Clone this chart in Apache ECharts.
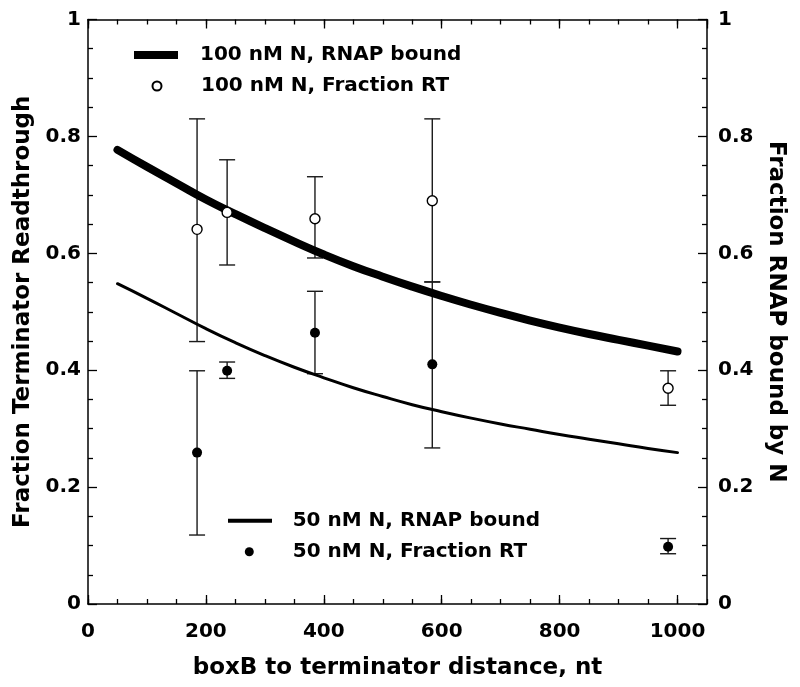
<!DOCTYPE html>
<html>
<head>
<meta charset="utf-8">
<script src="https://cdn.jsdelivr.net/npm/echarts@6/dist/echarts.min.js"></script>
<style>html,body{margin:0;padding:0;background:#fff;}#c{width:800px;height:687px;}</style>
</head>
<body>
<div id="c"></div>
<script>
// ---- data ----
const curveX = [50, 100, 150, 200, 250, 300, 350, 400, 450, 500, 550, 600, 650, 700, 750, 800, 850, 900, 950, 1000];
const bound100 = [0.777, 0.748, 0.720, 0.692, 0.667, 0.643, 0.620, 0.598, 0.578, 0.560, 0.543, 0.527, 0.512, 0.498, 0.485, 0.473, 0.462, 0.452, 0.442, 0.432];
const bound50  = [0.548, 0.523, 0.497, 0.471, 0.447, 0.425, 0.405, 0.387, 0.370, 0.355, 0.341, 0.329, 0.318, 0.308, 0.299, 0.290, 0.282, 0.274, 0.266, 0.259];

const ptX = [185, 236, 385, 584, 984];
const rt100 = [0.641, 0.670, 0.659, 0.690, 0.369];
const rt100Lo = [0.449, 0.580, 0.592, 0.551, 0.340];
const rt100Hi = [0.830, 0.760, 0.731, 0.830, 0.399];
const rt50 = [0.259, 0.399, 0.464, 0.410, 0.098];
const rt50Lo = [0.118, 0.386, 0.394, 0.267, 0.086];
const rt50Hi = [0.399, 0.414, 0.535, 0.551, 0.112];

const xTicks = [0, 200, 400, 600, 800, 1000];
const yTicks = [0, 0.2, 0.4, 0.6, 0.8, 1];

const names = {
  b100: '100 nM N, RNAP bound',
  r100: '100 nM N, Fraction RT',
  b50: '50 nM N, RNAP bound',
  r50: '50 nM N, Fraction RT'
};

// ---- build ----
const FONT = '"DejaVu Sans", "Liberation Sans", Arial, sans-serif';
const pair = (xs, ys) => xs.map((x, i) => [x, ys[i]]);
const err = (xs, lo, hi) => xs.map((x, i) => [x, lo[i], hi[i]]);

function errorRender(params, api) {
  const x = api.value(0), lo = api.value(1), hi = api.value(2);
  const a = api.coord([x, lo]), b = api.coord([x, hi]);
  const w = 8;
  const st = { stroke: '#1a1a1a', lineWidth: 1.4 };
  return {
    type: 'group',
    children: [
      { type: 'line', shape: { x1: a[0], y1: a[1], x2: b[0], y2: b[1] }, style: st },
      { type: 'line', shape: { x1: a[0] - w, y1: a[1], x2: a[0] + w, y2: a[1] }, style: st },
      { type: 'line', shape: { x1: b[0] - w, y1: b[1], x2: b[0] + w, y2: b[1] }, style: st }
    ]
  };
}

const labelStyle = { fontFamily: FONT, fontWeight: 'bold', fontSize: 20, color: '#000' };
const nameStyle = { fontFamily: FONT, fontWeight: 'bold', fontSize: 23, color: '#000' };
const lineSt = { color: '#000', width: 1.5 };

function xAxisDef(pos, major) {
  return {
    type: 'value', position: pos, min: 0, max: 1050,
    interval: major ? 200 : 50,
    axisLine: { show: major, onZero: false, lineStyle: lineSt },
    axisTick: { show: true, inside: true, length: major ? 9 : 5, lineStyle: { color: '#000', width: 1.3 } },
    axisLabel: (pos === 'bottom' && major) ? Object.assign({
      show: true, margin: 18, showMaxLabel: false,
      formatter: v => (xTicks.indexOf(v) >= 0 ? String(v) : '')
    }, labelStyle) : { show: false },
    splitLine: { show: false },
    name: (pos === 'bottom' && major) ? 'boxB to terminator distance, nt' : '',
    nameLocation: 'middle', nameGap: 53, nameTextStyle: nameStyle
  };
}

function yAxisDef(pos, name, margin, gap, rot) {
  return {
    type: 'value', position: pos, min: 0, max: 1, interval: 0.2,
    axisLine: { show: true, onZero: false, lineStyle: lineSt },
    axisTick: { show: true, inside: true, length: 9, lineStyle: { color: '#000', width: 1.3 } },
    minorTick: { show: true, splitNumber: 4, length: 5, lineStyle: { color: '#000', width: 1.3 } },
    axisLabel: Object.assign({
      show: true, margin: margin,
      formatter: v => { const r = Math.round(v * 10) / 10; return yTicks.indexOf(r) >= 0 ? String(r) : ''; }
    }, labelStyle),
    splitLine: { show: false },
    name: name, nameLocation: 'middle', nameGap: gap, nameRotate: rot, nameTextStyle: nameStyle
  };
}

function legendDef(name, icon, left, top, w, h, pad) {
  return {
    data: [{ name: name, icon: icon }],
    left: left, top: top, padding: 0, itemWidth: w, itemHeight: h,
    selectedMode: false, orient: 'vertical',
    textStyle: { fontFamily: FONT, fontWeight: 'bold', fontSize: 20, color: '#000', lineHeight: 22, padding: [0, 0, 0, pad] }
  };
}

const option = {
  backgroundColor: '#fff',
  animation: false,
  grid: { left: 88, right: 93, top: 19.5, bottom: 83, containLabel: false },
  xAxis: [xAxisDef('bottom', true), xAxisDef('bottom', false), xAxisDef('top', true), xAxisDef('top', false)],
  yAxis: [
    yAxisDef('left', 'Fraction Terminator Readthrough', 7, 44, 90),
    yAxisDef('right', 'Fraction RNAP bound by N', 11, 51, -90)
  ],
  legend: [
    legendDef(names.b100, 'rect', 134, 44, 44, 8, 17),
    legendDef(names.r100, 'circle', 151.5, 75, 9, 9, 34.5),
    legendDef(names.b50, 'rect', 228, 509.7, 44, 4, 15.7),
    legendDef(names.r50, 'circle', 244.8, 540.7, 9, 9, 34)
  ],
  series: [
    { type: 'custom', name: 'err100', renderItem: errorRender, data: err(ptX, rt100Lo, rt100Hi), z: 2, silent: true },
    { type: 'custom', name: 'err50', renderItem: errorRender, data: err(ptX, rt50Lo, rt50Hi), z: 2, silent: true },
    { type: 'line', name: names.b100, data: pair(curveX, bound100), smooth: true, showSymbol: false, symbol: 'none',
      lineStyle: { color: '#000', width: 8, cap: 'round' }, itemStyle: { color: '#000' }, z: 3 },
    { type: 'line', name: names.b50, data: pair(curveX, bound50), smooth: true, showSymbol: false, symbol: 'none',
      lineStyle: { color: '#000', width: 3, cap: 'round' }, itemStyle: { color: '#000' }, z: 3 },
    { type: 'scatter', name: names.r100, data: pair(ptX, rt100), symbol: 'circle', symbolSize: 10,
      itemStyle: { color: '#fff', borderColor: '#000', borderWidth: 1.4, opacity: 1 }, z: 5 },
    { type: 'scatter', name: names.r50, data: pair(ptX, rt50), symbol: 'circle', symbolSize: 10,
      itemStyle: { color: '#000', borderColor: '#000', borderWidth: 0, opacity: 1 }, z: 5 }
  ]
};

const chart = echarts.init(document.getElementById('c'), null, { renderer: 'canvas' });
chart.setOption(option);
</script>
</body>
</html>
